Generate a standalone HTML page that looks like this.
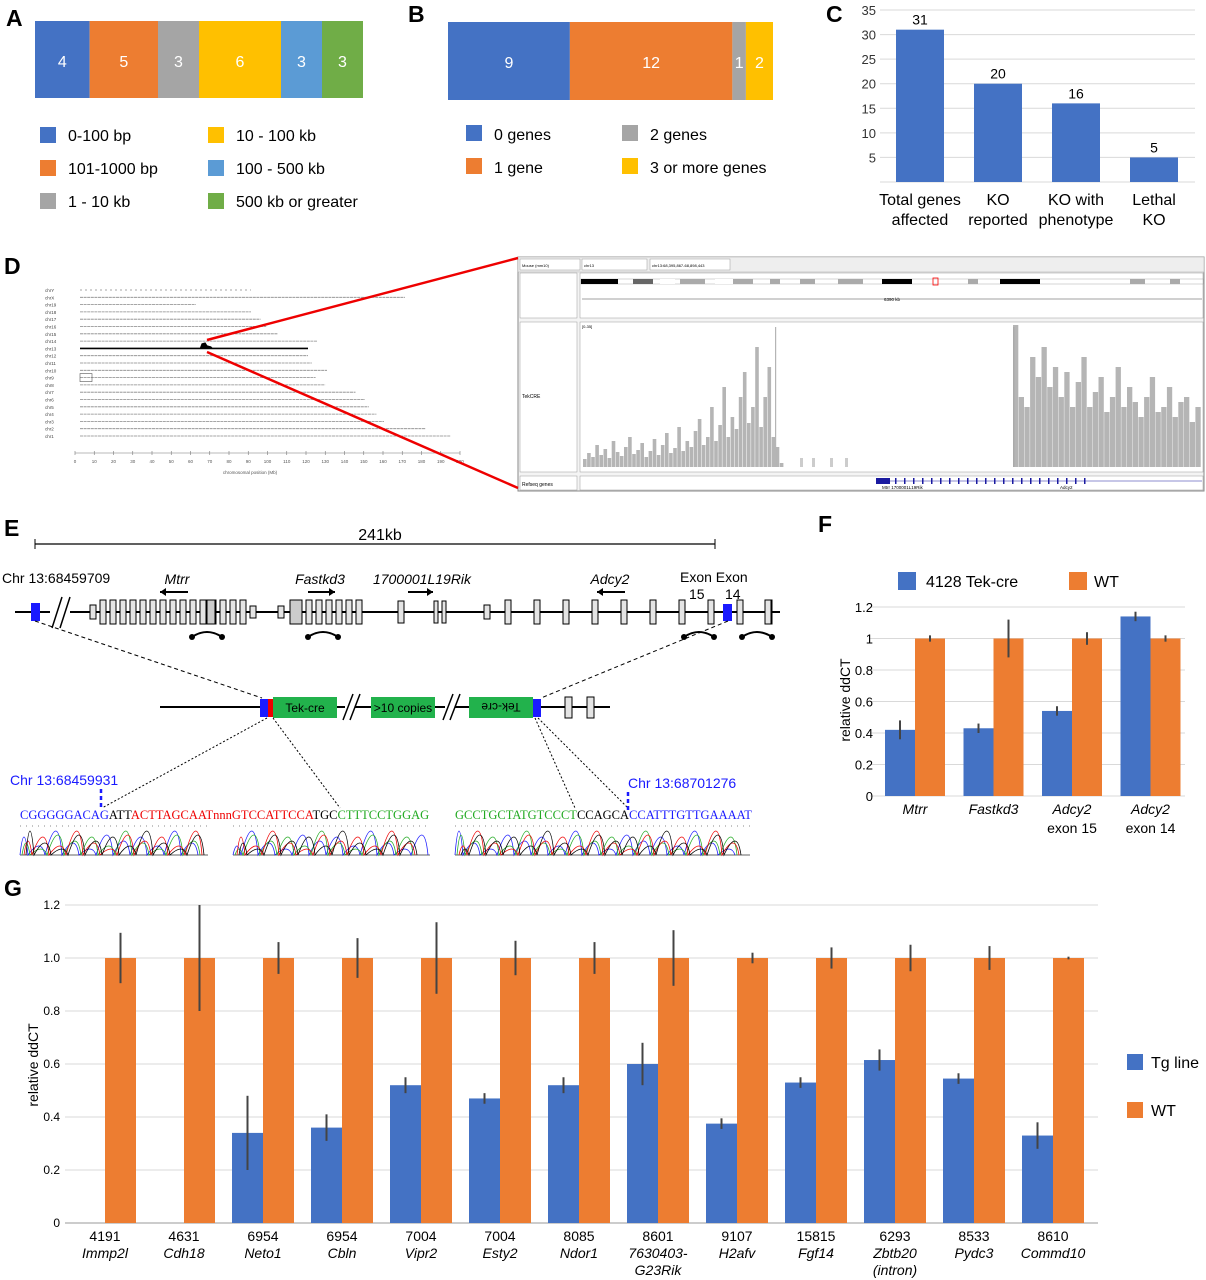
<!DOCTYPE html>
<html><head><meta charset="utf-8"><style>
html,body{margin:0;padding:0;background:#fff;width:1206px;height:1280px;overflow:hidden}
svg{display:block;font-family:"Liberation Sans",Arial,sans-serif}
</style></head><body>
<svg id="fig" width="1206" height="1280" viewBox="0 0 1206 1280">
<g id="pA"></g>
<g id="pB"></g>
<g id="pC"></g>
<g id="pD"></g>
<g id="pE"></g>
<g id="pF"></g>
<g id="pG"></g>
</svg>
<script>
// ---------- data ----------
const aValues=[4,5,3,6,3,3];
const aLabels=["0-100 bp","101-1000 bp","1 - 10 kb","10 - 100 kb","100 - 500 kb","500 kb or greater"];
const bValues=[9,12,1,2];
const bLabels=["0 genes","1 gene","2 genes","3 or more genes"];
const cCats=[["Total genes","affected"],["KO","reported"],["KO with","phenotype"],["Lethal","KO"]];
const cValues=[31,20,16,5];
const cTicks=[5,10,15,20,25,30,35];
const fCats=[["Mtrr"],["Fastkd3"],["Adcy2","exon 15"],["Adcy2","exon 14"]];
const fTek=[0.42,0.43,0.54,1.14];
const fTekErr=[0.06,0.03,0.03,0.03];
const fWT=[1,1,1,1];
const fWTErr=[0.02,0.12,0.04,0.02];
const fTicks=[0,0.2,0.4,0.6,0.8,1,1.2];
const gIds=["4191","4631","6954","6954","7004","7004","8085","8601","9107","15815","6293","8533","8610"];
const gGenes=[["Immp2l"],["Cdh18"],["Neto1"],["Cbln"],["Vipr2"],["Esty2"],["Ndor1"],["7630403-","G23Rik"],["H2afv"],["Fgf14"],["Zbtb20","(intron)"],["Pydc3"],["Commd10"]];
const gTg=[null,null,0.34,0.36,0.52,0.47,0.52,0.60,0.375,0.53,0.615,0.545,0.33];
const gTgErr=[0,0,0.14,0.05,0.03,0.02,0.03,0.08,0.02,0.02,0.04,0.02,0.05];
const gWT=[1,1,1,1,1,1,1,1,1,1,1,1,1];
const gWTErr=[0.095,0.2,0.06,0.075,0.135,0.065,0.06,0.105,0.02,0.04,0.05,0.045,0.005];
const gTicks=[0,0.2,0.4,0.6,0.8,1.0,1.2];
const chrNames=["chrY","chrX","chr19","chr18","chr17","chr16","chr15","chr14","chr13","chr12","chr11","chr10","chr9","chr8","chr7","chr6","chr5","chr4","chr3","chr2","chr1"];
const chrLen=[90,171,61,90,95,98,104,125,120,120,122,130,124,129,145,150,152,156,160,182,195];
const covLeft=[8,14,10,22,12,18,9,26,15,11,20,30,13,17,24,10,16,28,12,22,34,14,19,40,16,26,20,36,48,22,30,60,26,42,80,30,50,38,70,95,44,60,120,40,70,100,30,20,4];
const covRight=[142,70,60,110,90,120,80,100,70,95,60,85,110,60,75,90,55,70,100,60,80,65,50,70,90,55,60,80,50,65,70,45,60];

const C={blue:"#4472C4",orange:"#ED7D31",gray:"#A5A5A5",yellow:"#FFC000",lblue:"#5B9BD5",green:"#70AD47",grid:"#D9D9D9"};
const NS="http://www.w3.org/2000/svg";
function el(parent,tag,attrs,text){const e=document.createElementNS(NS,tag);for(const k in attrs)e.setAttribute(k,attrs[k]);if(text!==undefined)e.textContent=text;parent.appendChild(e);return e;}
function fmt(v,d){return v.toFixed(d);}

// ---------- panel letters ----------
const letters=[["A",6,26],["B",408,22],["C",826,22],["D",4,274],["E",4,536],["F",818,532],["G",4,896]];
const fig=document.getElementById("fig");
letters.forEach(l=>{const t=el(fig,"text",{x:l[1],y:l[2],"font-size":23,"font-weight":"bold"},l[0]);

});

// ---------- A ----------
(function(){const g=document.getElementById("pA");const cols=[C.blue,C.orange,C.gray,C.yellow,C.lblue,C.green];
const tot=aValues.reduce((a,b)=>a+b,0);const x0=35,w=328;let x=x0;
aValues.forEach((v,i)=>{const ww=v/tot*w;const r=el(g,"rect",{x:x,y:21,width:ww,height:77,fill:cols[i]});

el(g,"text",{x:x+ww/2,y:67,"font-size":16,fill:"#fff","text-anchor":"middle"},v);x+=ww;});
aLabels.forEach((lb,i)=>{const col=i<3?0:1,row=i%3;const lx=col?208:40,ly=127+row*33;
const s=el(g,"rect",{x:lx,y:ly,width:16,height:16,fill:cols[i]});
const t=el(g,"text",{x:lx+28,y:ly+14,"font-size":16},lb);});})();

// ---------- B ----------
(function(){const g=document.getElementById("pB");const cols=[C.blue,C.orange,C.gray,C.yellow];
const tot=bValues.reduce((a,b)=>a+b,0);const x0=448,w=325;let x=x0;
bValues.forEach((v,i)=>{const ww=v/tot*w;const r=el(g,"rect",{x:x,y:22,width:ww,height:78,fill:cols[i]});

el(g,"text",{x:x+ww/2,y:68,"font-size":16,fill:"#fff","text-anchor":"middle"},v);x+=ww;});
bLabels.forEach((lb,i)=>{const col=i<2?0:1,row=i%2;const lx=col?622:466,ly=125+row*33;
const s=el(g,"rect",{x:lx,y:ly,width:16,height:16,fill:cols[i]});
const t=el(g,"text",{x:lx+28,y:ly+15,"font-size":16},lb);});})();

// ---------- C ----------
(function(){const g=document.getElementById("pC");const y=v=>182-v*4.914;const xc=i=>920+i*78;
cTicks.forEach(t=>{el(g,"line",{x1:880,x2:1195,y1:y(t),y2:y(t),stroke:C.grid,"stroke-width":1});
el(g,"text",{x:876,y:y(t)+5,"font-size":13,"text-anchor":"end",fill:"#333"},t);});
el(g,"line",{x1:880,x2:1195,y1:y(0),y2:y(0),stroke:C.grid});
cValues.forEach((v,i)=>{const r=el(g,"rect",{x:xc(i)-24,y:y(v),width:48,height:y(0)-y(v),fill:C.blue});

el(g,"text",{x:xc(i),y:y(v)-5,"font-size":14,"text-anchor":"middle"},v);
cCats[i].forEach((s,j)=>el(g,"text",{x:xc(i),y:205+j*20,"font-size":16,"text-anchor":"middle"},s));});})();

// ---------- D ----------
(function(){const g=document.getElementById("pD");
const xm=v=>80+v*1.9;const rowY=i=>290+i*7.3;
chrNames.forEach((n,i)=>{const t=el(g,"text",{x:45,y:rowY(i)+2,"font-size":4.5,fill:"#444"},n);

const isY=i===0,is13=n==="chr13";
const ln=el(g,"line",{x1:xm(0),x2:xm(chrLen[i]),y1:rowY(i),y2:rowY(i),stroke:is13?"#000":"#888","stroke-width":is13?1.6:0.8,"stroke-dasharray":isY?"2 3":(is13?"":"3 0.6")});
});
const y13=rowY(8);el(g,"path",{d:`M${xm(63)},${y13} L${xm(64)},${y13-5} L${xm(66)},${y13-6} L${xm(67)},${y13-3} L${xm(69)},${y13-2} L${xm(70)},${y13}Z`,fill:"#000"});
el(g,"rect",{x:80,y:rowY(12)-4,width:12,height:8,fill:"none",stroke:"#555","stroke-width":0.6});
el(g,"line",{x1:75,x2:460,y1:453,y2:453,stroke:"#777","stroke-width":0.6});
for(let t=0;t<=200;t+=10){const xx=75+t*1.925;el(g,"line",{x1:xx,x2:xx,y1:451,y2:455,stroke:"#777","stroke-width":0.6});
el(g,"text",{x:xx,y:463,"font-size":4.5,"text-anchor":"middle",fill:"#555"},t);}
el(g,"text",{x:250,y:474,"font-size":4.5,"text-anchor":"middle",fill:"#555"},"chromosomal position (Mb)");
// IGV window
el(g,"rect",{x:518,y:257,width:686,height:234,fill:"#f4f4f4",stroke:"#888","stroke-width":1});
el(g,"rect",{x:518,y:257,width:686,height:15,fill:"#eee",stroke:"#aaa","stroke-width":0.5});
[[520,60,"Mouse (mm10)"],[582,65,"chr13"],[650,80,"chr13:68,395,867-68,898,443"]].forEach(b=>{el(g,"rect",{x:b[0],y:259,width:b[1],height:11,fill:"#fff",stroke:"#999","stroke-width":0.5});el(g,"text",{x:b[0]+2,y:267,"font-size":4},b[2]);});
el(g,"rect",{x:520,y:273,width:57,height:45,fill:"#fff",stroke:"#999","stroke-width":0.5});
el(g,"rect",{x:580,y:273,width:623,height:45,fill:"#fff",stroke:"#999","stroke-width":0.5});
const bands=[[581,37,"#000"],[633,20,"#666"],[660,15,"#fff"],[680,25,"#aaa"],[715,18,"#fff"],[733,20,"#aaa"],[770,10,"#aaa"],[800,15,"#aaa"],[838,25,"#aaa"],[882,30,"#000"],[968,10,"#aaa"],[1130,15,"#aaa"],[1170,10,"#aaa"],[1000,40,"#000"]];
el(g,"rect",{x:581,y:279,width:622,height:5,fill:"#fff",stroke:"#999","stroke-width":0.4});
bands.forEach(b=>el(g,"rect",{x:b[0],y:279,width:b[1],height:5,fill:b[2]}));
el(g,"rect",{x:933,y:278,width:5,height:7,fill:"none",stroke:"red","stroke-width":0.8});
el(g,"line",{x1:582,x2:1202,y1:299,y2:299,stroke:"#444","stroke-width":0.6});
el(g,"text",{x:892,y:301,"font-size":4.5,"text-anchor":"middle"},"6390 kb");
el(g,"rect",{x:520,y:322,width:57,height:150,fill:"#fff",stroke:"#999","stroke-width":0.5});
el(g,"text",{x:522,y:398,"font-size":5},"TekCRE");
el(g,"rect",{x:580,y:322,width:623,height:150,fill:"#fff",stroke:"#999","stroke-width":0.5});
el(g,"text",{x:582,y:328,"font-size":4},"[0-35]");
const base=467;
covLeft.forEach((h,i)=>{const xx=583+i*4.1;const r=el(g,"rect",{x:xx,y:base-h,width:3.6,height:h,fill:"#b5b5b5"});
});
el(g,"rect",{x:775,y:327,width:1.2,height:140,fill:"#b5b5b5"});
covRight.forEach((h,i)=>{const xx=1013+i*5.7;const r=el(g,"rect",{x:xx,y:base-h,width:5.3,height:h,fill:"#b5b5b5"});
});
el(g,"rect",{x:1013,y:327,width:1.4,height:140,fill:"#aaa"});
[800,812,830,845].forEach(x=>el(g,"rect",{x:x,y:458,width:3,height:9,fill:"#ccc"}));
el(g,"rect",{x:520,y:476,width:57,height:14,fill:"#fff",stroke:"#999","stroke-width":0.5});
el(g,"text",{x:522,y:486,"font-size":5},"Refseq genes");
el(g,"rect",{x:580,y:476,width:623,height:14,fill:"#fff",stroke:"#999","stroke-width":0.5});
el(g,"line",{x1:876,x2:1202,y1:481,y2:481,stroke:"#1a1aa0","stroke-width":0.6});
el(g,"rect",{x:876,y:478,width:14,height:6,fill:"#1a1aa0"});
for(let x=895;x<1090;x+=9)el(g,"rect",{x:x,y:478,width:1.5,height:6,fill:"#1a1aa0"});
el(g,"text",{x:882,y:489,"font-size":4.5},"Mtrr   1700001L19Rik");el(g,"text",{x:1060,y:489,"font-size":4.5},"Adcy2");
el(g,"line",{x1:207,y1:340,x2:518,y2:258,stroke:"#e00",stroke_width:2,"stroke-width":2.5});
el(g,"line",{x1:207,y1:352,x2:518,y2:488,stroke:"#e00","stroke-width":2.5});})();

// ---------- E ----------
(function(){const g=document.getElementById("pE");
el(g,"line",{x1:35,x2:715,y1:544,y2:544,stroke:"#000","stroke-width":1.2});
el(g,"line",{x1:35,x2:35,y1:539,y2:549,stroke:"#000"});el(g,"line",{x1:715,x2:715,y1:539,y2:549,stroke:"#000"});
el(g,"text",{x:380,y:540,"font-size":16,"text-anchor":"middle"},"241kb");
el(g,"text",{x:2,y:583,"font-size":14},"Chr 13:68459709");
[["Mtrr",177],["Fastkd3",320],["1700001L19Rik",422],["Adcy2",610]].forEach(l=>el(g,"text",{x:l[1],y:584,"font-size":14,"font-style":"italic","text-anchor":"middle"},l[0]));
el(g,"text",{x:680,y:582,"font-size":14},"Exon Exon");el(g,"text",{x:689,y:599,"font-size":14},"15");el(g,"text",{x:725,y:599,"font-size":14},"14");
[[188,160],[308,335],[408,433],[625,597]].forEach(a=>{el(g,"line",{x1:a[0],x2:a[1],y1:592,y2:592,stroke:"#000","stroke-width":2});
const d=a[1]>a[0]?1:-1;el(g,"path",{d:`M${a[1]},${592} l${-6*d},-4 l0,8z`,fill:"#000"});});
el(g,"line",{x1:15,x2:50,y1:612,y2:612,stroke:"#000","stroke-width":2});
el(g,"line",{x1:70,x2:780,y1:612,y2:612,stroke:"#000","stroke-width":2});
el(g,"path",{d:"M52,628 L62,597 M60,628 L70,597",stroke:"#000","stroke-width":1.5});
el(g,"rect",{x:31,y:603,width:9,height:18,fill:"#1a1aff"});
function ex(x,w,h,fill){el(g,"rect",{x:x,y:612-h/2,width:w,height:h,fill:fill||"#e4e4e4",stroke:"#000","stroke-width":1});}
ex(90,6,14);for(let x=100;x<250;x+=10)ex(x,6,24);ex(207,8,24,"#ccc");ex(250,6,12);
ex(278,6,12);ex(290,12,24,"#ccc");for(let x=306;x<360;x+=10)ex(x,6,24);
ex(398,6,22);ex(434,4,22);ex(442,4,22);ex(484,6,14);
for(let x=505;x<780;x+=29)ex(x,6,24);ex(765,6,24);
el(g,"rect",{x:723,y:604,width:9,height:17,fill:"#1a1aff"});
[[207],[323],[699],[757]].forEach(a=>{el(g,"path",{d:`M${a[0]-15},${637} q15,-10 30,0`,fill:"none",stroke:"#000","stroke-width":2});el(g,"circle",{cx:a[0]-15,cy:637,r:3});el(g,"circle",{cx:a[0]+15,cy:637,r:3});});
// middle
el(g,"line",{x1:160,x2:345,y1:707,y2:707,stroke:"#000","stroke-width":2});el(g,"line",{x1:355,x2:445,y1:707,y2:707,stroke:"#000","stroke-width":2});el(g,"line",{x1:455,x2:610,y1:707,y2:707,stroke:"#000","stroke-width":2});
el(g,"path",{d:"M343,720 L353,694 M350,720 L360,694 M443,720 L453,694 M450,720 L460,694",stroke:"#000","stroke-width":1.5});
el(g,"rect",{x:260,y:699,width:8,height:18,fill:"#1a1aff"});el(g,"rect",{x:268,y:699,width:5,height:18,fill:"#e00"});
[[273,"Tek-cre"],[371,">10 copies"],[469,"Tek-cre"]].forEach((b,i)=>{el(g,"rect",{x:b[0],y:697,width:64,height:21,fill:"#22b24c"});
const t=el(g,"text",{x:b[0]+32,y:712,"font-size":12,"text-anchor":"middle"},b[1]);if(i===2)t.setAttribute("transform",`rotate(180 ${b[0]+32} 707.5)`);});
el(g,"rect",{x:533,y:699,width:8,height:18,fill:"#1a1aff"});
ex0=(x)=>el(g,"rect",{x:x,y:697,width:7,height:21,fill:"#e4e4e4",stroke:"#000"});ex0(565);ex0(587);
const dash={stroke:"#000","stroke-width":1,"stroke-dasharray":"4 3",fill:"none"};
el(g,"line",Object.assign({x1:35,y1:621,x2:262,y2:698},dash));el(g,"line",Object.assign({x1:728,y1:621,x2:541,y2:698},dash));
const dot={stroke:"#000","stroke-width":1,"stroke-dasharray":"2 2",fill:"none"};
el(g,"line",Object.assign({x1:267,y1:718,x2:102,y2:808},dot));el(g,"line",Object.assign({x1:273,y1:718,x2:340,y2:808},dot));
el(g,"line",Object.assign({x1:535,y1:718,x2:575,y2:808},dot));el(g,"line",Object.assign({x1:538,y1:718,x2:628,y2:808},dot));
el(g,"text",{x:10,y:785,"font-size":14,fill:"#1a1aff"},"Chr 13:68459931");el(g,"text",{x:628,y:788,"font-size":14,fill:"#1a1aff"},"Chr 13:68701276");
el(g,"line",{x1:101,x2:101,y1:789,y2:808,stroke:"#1a1aff","stroke-width":2.5,"stroke-dasharray":"4 3"});el(g,"line",{x1:628,x2:628,y1:792,y2:810,stroke:"#1a1aff","stroke-width":2.5,"stroke-dasharray":"4 3"});
const seq=el(g,"text",{x:20,y:819,"font-size":12.5,"font-family":"Liberation Serif, serif"});
[["CGGGGGACAG","#1a1aff"],["ATT","#000"],["ACTTAGCAATnnnGTCCATTCCA","#e00"],["TGC","#000"],["CTTTCCTGGAG","#2a2"]].forEach((p,i)=>{const s=el(seq,"tspan",{fill:p[1]},p[0]);if(i===4)s.setAttribute("dx","0");});
const seq2=el(g,"text",{x:455,y:819,"font-size":12.5,"font-family":"Liberation Serif, serif"});
[["GCCTGCTATGTCCCT","#2a2"],["CCAGCA","#000"],["CCATTTGTTGAAAAT","#1a1aff"]].forEach(p=>el(seq2,"tspan",{fill:p[1]},p[0]));
// chromatograms
const trC=["#1a1aff","#2a2","#e00","#000"];
[[20,208],[233,430],[455,750]].forEach((r,k)=>{el(g,"line",{x1:r[0],x2:r[1],y1:826,y2:826,stroke:"#888","stroke-width":1,"stroke-dasharray":"1 5"});
el(g,"line",{x1:r[0],x2:r[1],y1:855,y2:855,stroke:"#666"});
for(let c=0;c<4;c++){let d=`M${r[0]+c*2},855`;let j=0;for(let x=r[0]+c*2;x<r[1]-8;x+=17){const h=[18,9,24,12,6,20,14][(j+c*3+k)%7];d+=` Q${x+4},${855-h*2} ${x+8},855`;j++;}
el(g,"path",{d:d,fill:"none",stroke:trC[c],"stroke-width":0.8});}});})();

// ---------- F ----------
(function(){const g=document.getElementById("pF");const y=v=>796-v*157.5;const xc=i=>915+i*78.5;
fTicks.forEach(t=>{el(g,"line",{x1:870,x2:1185,y1:y(t),y2:y(t),stroke:C.grid});
el(g,"text",{x:873,y:y(t)+5,"font-size":13,"text-anchor":"end"},t===0||t===1?t:fmt(t,1));});
const yl=el(g,"text",{x:850,y:700,"font-size":14,"text-anchor":"middle",transform:"rotate(-90 850 700)"},"relative ddCT");

const s1=el(g,"rect",{x:898,y:572,width:18,height:18,fill:C.blue});
el(g,"text",{x:926,y:587,"font-size":16},"4128 Tek-cre");
const s2=el(g,"rect",{x:1069,y:572,width:18,height:18,fill:C.orange});
el(g,"text",{x:1094,y:587,"font-size":16},"WT");
fCats.forEach((c,i)=>{
const b=el(g,"rect",{x:xc(i)-30,y:y(fTek[i]),width:30,height:y(0)-y(fTek[i]),fill:C.blue});
const o=el(g,"rect",{x:xc(i),y:y(fWT[i]),width:30,height:y(0)-y(fWT[i]),fill:C.orange});
[[xc(i)-15,fTek[i],fTekErr[i]],[xc(i)+15,fWT[i],fWTErr[i]]].forEach(e=>{el(g,"line",{x1:e[0],x2:e[0],y1:y(e[1]+e[2]),y2:y(e[1]-e[2]),stroke:"#444","stroke-width":2});});
c.forEach((s,j)=>el(g,"text",{x:xc(i),y:814+j*19,"font-size":14,"text-anchor":"middle","font-style":j===0?"italic":"normal"},s));});})();

// ---------- G ----------
(function(){const g=document.getElementById("pG");const y=v=>1223-v*265;const xc=i=>105+i*79;
gTicks.forEach(t=>{el(g,"line",{x1:65,x2:1098,y1:y(t),y2:y(t),stroke:C.grid});
el(g,"text",{x:60,y:y(t)+4,"font-size":12,"text-anchor":"end"},t===0?"0":fmt(t,1));});
el(g,"line",{x1:65,x2:1098,y1:y(0),y2:y(0),stroke:"#ccc","stroke-width":2});
const yl=el(g,"text",{x:38,y:1065,"font-size":14,"text-anchor":"middle",transform:"rotate(-90 38 1065)"},"relative ddCT");

gIds.forEach((id,i)=>{
if(gTg[i]!==null){const b=el(g,"rect",{x:xc(i)-31,y:y(gTg[i]),width:31,height:y(0)-y(gTg[i]),fill:C.blue});

el(g,"line",{x1:xc(i)-15.5,x2:xc(i)-15.5,y1:y(gTg[i]+gTgErr[i]),y2:y(gTg[i]-gTgErr[i]),stroke:"#444","stroke-width":2});}
const o=el(g,"rect",{x:xc(i),y:y(gWT[i]),width:31,height:y(0)-y(gWT[i]),fill:C.orange});

el(g,"line",{x1:xc(i)+15.5,x2:xc(i)+15.5,y1:y(gWT[i]+gWTErr[i]),y2:y(gWT[i]-gWTErr[i]),stroke:"#444","stroke-width":2});
el(g,"text",{x:xc(i),y:1241,"font-size":14,"text-anchor":"middle"},id);
gGenes[i].forEach((s,j)=>el(g,"text",{x:xc(i),y:1258+j*17,"font-size":14,"text-anchor":"middle","font-style":"italic"},s));});
const s1=el(g,"rect",{x:1127,y:1054,width:16,height:16,fill:C.blue});
el(g,"text",{x:1151,y:1068,"font-size":16},"Tg line");
const s2=el(g,"rect",{x:1127,y:1102,width:16,height:16,fill:C.orange});
el(g,"text",{x:1151,y:1116,"font-size":16},"WT");})();
</script>
</body></html>
